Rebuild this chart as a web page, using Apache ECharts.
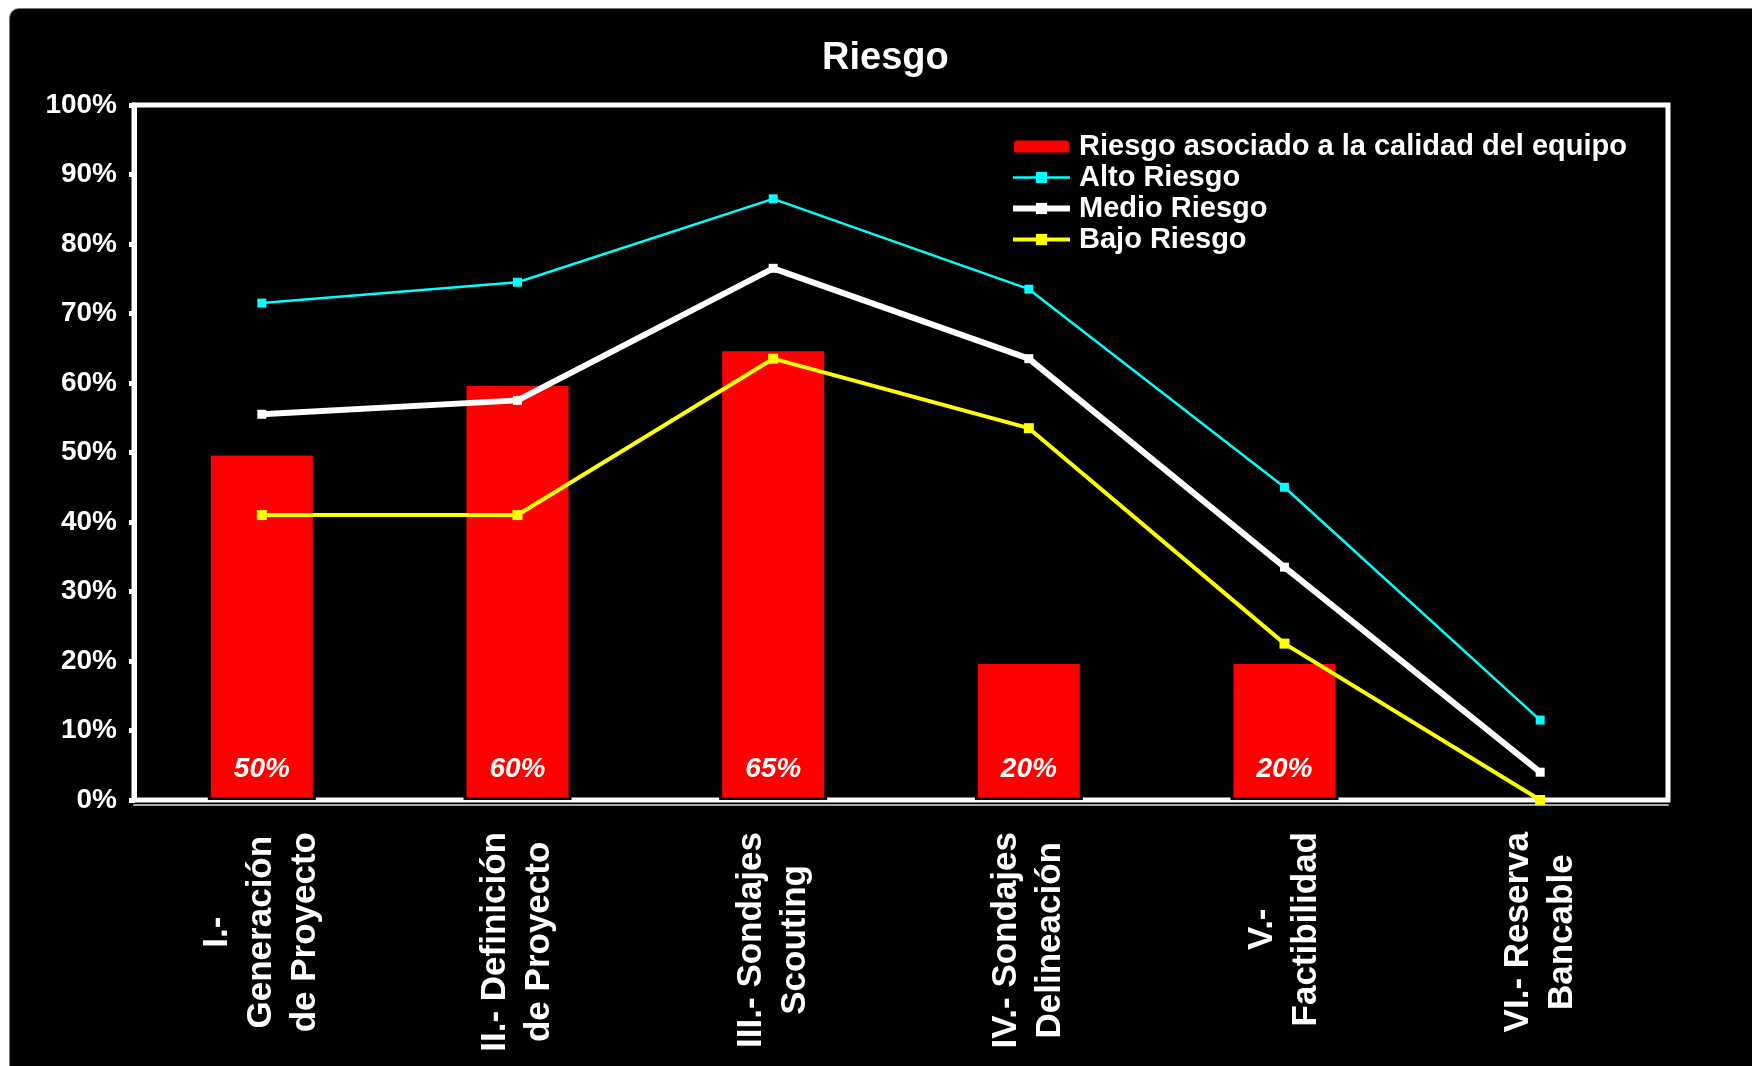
<!DOCTYPE html>
<html>
<head>
<meta charset="utf-8">
<title>Riesgo</title>
<script src="https://cdn.jsdelivr.net/npm/echarts@6/dist/echarts.min.js"></script>
<style>
  html, body { margin: 0; padding: 0; background: #ffffff; }
  #frame {
    position: absolute; left: 9px; top: 8px; width: 1760px; height: 1080px;
    background: #000000; border: 1px solid #7a7a7a; border-radius: 10px;
  }
  #chart { position: absolute; left: 0; top: 0; width: 1752px; height: 1066px; }
</style>
</head>
<body>
<div id="frame"></div>
<div id="chart"></div>
<script>
// Project stages (x axis)
const categories = [
  'I.-\nGeneración\nde Proyecto',
  'II.- Definición\nde Proyecto',
  'III.- Sondajes\nScouting',
  'IV.- Sondajes\nDelineación',
  'V.-\nFactibilidad',
  'VI.- Reserva\nBancable'
];

// Risk tied to team quality (bars, %)
const riesgoEquipo = [50, 60, 65, 20, 20, null];

// Risk levels per stage (lines, %)
const altoRiesgo  = [71.5, 74.5, 86.5, 73.5, 45, 11.5];
const medioRiesgo = [55.5, 57.5, 76.5, 63.5, 33.5, 4];
const bajoRiesgo  = [41, 41, 63.5, 53.5, 22.5, 0];

// Y axis ticks
const yMin = 0, yMax = 100, yStep = 10;

const FONT = "'Liberation Sans', Arial, sans-serif";

const chart = echarts.init(document.getElementById('chart'), null, { renderer: 'canvas' });

chart.setOption({
  backgroundColor: 'transparent',
  animation: false,
  title: {
    text: 'Riesgo',
    left: 822,
    top: 40,
    padding: 0,
    textStyle: { color: '#ffffff', fontSize: 38, fontWeight: 'bold', fontFamily: FONT }
  },
  legend: {
    orient: 'vertical',
    left: 1010,
    top: 131,
    padding: 0,
    itemWidth: 57,
    itemHeight: 14,
    itemGap: 0,
    lineStyle: { width: 'inherit' },
    textStyle: {
      color: '#ffffff', fontSize: 29, fontWeight: 'bold', fontFamily: FONT,
      lineHeight: 31, padding: [0, 0, 0, 4]
    },
    data: ['Riesgo asociado a la calidad del equipo', 'Alto Riesgo', 'Medio Riesgo', 'Bajo Riesgo']
  },
  grid: {
    left: 134,
    right: 84,
    top: 105,
    bottom: 266,
    show: true,
    borderColor: '#ffffff',
    borderWidth: 5,
    containLabel: false
  },
  xAxis: [
    {
      type: 'category',
      data: categories,
      boundaryGap: true,
      axisLine: { show: true, lineStyle: { color: '#ffffff', width: 4 } },
      axisTick: { show: false },
      axisLabel: {
        interval: 0,
        rotate: 90,
        margin: 32,
        color: '#ffffff',
        formatter: function (v) {
          return v.split('\n').map(function (s) { return '{c|' + s + '}'; }).join('\n');
        },
        rich: {
          c: {
            align: 'center', color: '#ffffff', fontSize: 35, fontWeight: 'bold',
            fontFamily: FONT, lineHeight: 44
          }
        }
      },
      splitLine: { show: false }
    },
    {
      // thin grey rule just under the baseline
      type: 'category',
      data: categories,
      position: 'bottom',
      offset: 5,
      axisLine: { show: true, lineStyle: { color: '#a8a8a8', width: 2 } },
      axisTick: { show: false },
      axisLabel: { show: false },
      splitLine: { show: false }
    }
  ],
  yAxis: {
    type: 'value',
    min: yMin,
    max: yMax,
    interval: yStep,
    axisLine: { show: true, lineStyle: { color: '#ffffff', width: 5 } },
    axisTick: { show: true, inside: false, length: 5, lineStyle: { color: '#ffffff', width: 5 } },
    axisLabel: {
      margin: 17,
      color: '#ffffff',
      fontSize: 28,
      fontWeight: 'bold',
      fontFamily: FONT,
      formatter: '{value}%'
    },
    splitLine: { show: false }
  },
  series: [
    {
      name: 'Riesgo asociado a la calidad del equipo',
      type: 'bar',
      data: riesgoEquipo,
      barWidth: 108,
      itemStyle: { color: '#ff0000', borderColor: '#000000', borderWidth: 3 },
      label: {
        show: true,
        position: 'insideBottom',
        distance: 17,
        formatter: '{c}%',
        color: '#ffffff',
        fontSize: 28,
        fontStyle: 'italic',
        fontWeight: 'bold',
        fontFamily: FONT
      },
      z: 2
    },
    {
      name: 'Alto Riesgo',
      type: 'line',
      data: altoRiesgo,
      symbol: 'rect',
      symbolSize: 9,
      showAllSymbol: true,
      lineStyle: { color: '#00ffff', width: 2.5 },
      itemStyle: { color: '#00ffff' },
      z: 3
    },
    {
      name: 'Medio Riesgo',
      type: 'line',
      data: medioRiesgo,
      symbol: 'rect',
      symbolSize: 9,
      showAllSymbol: true,
      lineStyle: { color: '#ffffff', width: 6 },
      itemStyle: { color: '#ffffff' },
      z: 4
    },
    {
      name: 'Bajo Riesgo',
      type: 'line',
      data: bajoRiesgo,
      symbol: 'rect',
      symbolSize: 10,
      showAllSymbol: true,
      lineStyle: { color: '#ffff00', width: 4 },
      itemStyle: { color: '#ffff00' },
      z: 5
    }
  ]
});
</script>
</body>
</html>
